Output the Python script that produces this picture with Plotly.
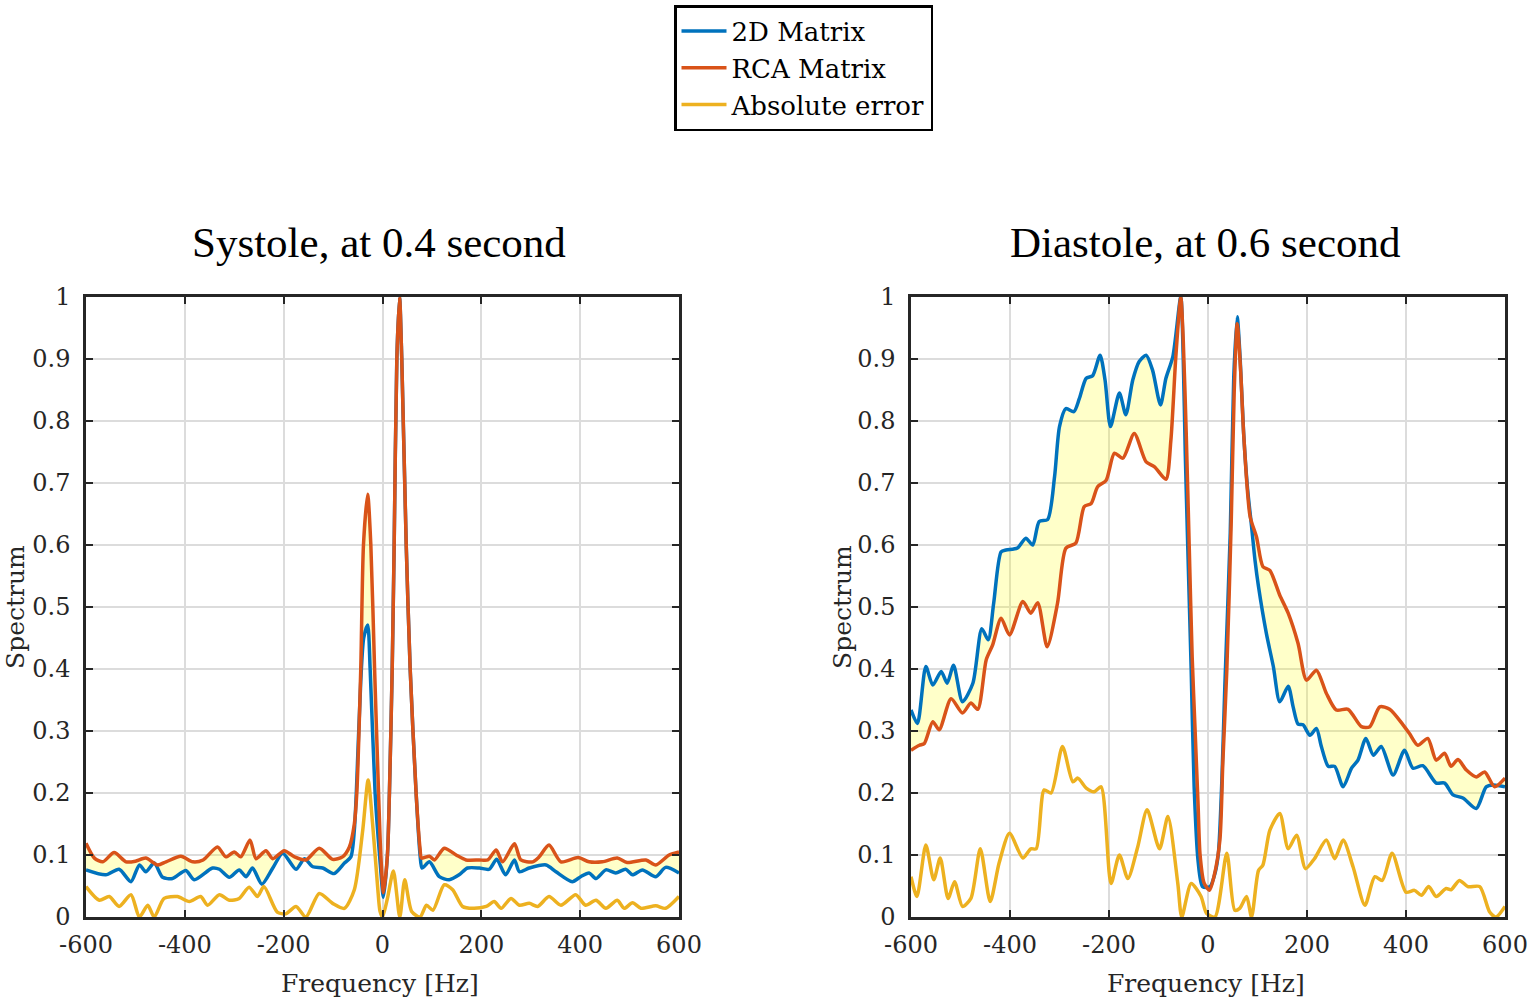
import plotly.graph_objects as go

# ---------------- Data ----------------
# Systole, at 0.4 second
sys_2d_f = [-600, -560, -533, -509, -492, -479, -462, -445, -425, -398, -381, -344, -330, -310, -290, -276,
            -263, -244, -222, -202, -175, -158, -141, -121, -98, -77, -64, -57, -53, -44, -38, -30, -25, -15,
            -6, 2, 10, 14, 19.6, 23.6, 29, 34.5, 39, 48, 56, 68, 76, 80, 95, 115, 135, 155, 172, 196, 216,
            231, 249, 267, 277, 297, 331, 351, 384, 401, 418, 432, 452, 472, 492, 506, 526, 553, 573, 600]
sys_2d_v = [0.076, 0.068, 0.077, 0.057, 0.084, 0.073, 0.087, 0.064, 0.062, 0.075, 0.060, 0.079, 0.077, 0.064,
            0.076, 0.065, 0.079, 0.053, 0.079, 0.103, 0.077, 0.094, 0.081, 0.079, 0.070, 0.087, 0.097, 0.14,
            0.2, 0.38, 0.45, 0.471, 0.4, 0.2, 0.1, 0.032, 0.1, 0.2, 0.4, 0.6, 0.9, 1.0, 0.9, 0.6, 0.4, 0.2,
            0.1, 0.079, 0.089, 0.065, 0.060, 0.068, 0.079, 0.079, 0.077, 0.093, 0.068, 0.092, 0.073, 0.079,
            0.084, 0.073, 0.057, 0.065, 0.071, 0.062, 0.076, 0.071, 0.077, 0.068, 0.076, 0.065, 0.080, 0.071]

sys_rca_f = [-600, -583, -566, -543, -519, -500, -479, -455, -438, -408, -384, -363, -334, -317, -300, -287,
             -268, -256, -236, -222, -199, -178, -155, -128, -101, -81, -67, -57, -52, -44, -38.5, -30, -23.6,
             -16, -8, -3.4, 2, 10, 14, 19.6, 23.6, 29, 34.5, 39, 48, 56, 68, 76, 79, 95, 105, 125, 149, 169,
             196, 213, 230, 243, 267, 280, 304, 317, 337, 361, 396, 418, 445, 475, 495, 533, 553, 580, 600]
sys_rca_v = [0.119, 0.095, 0.089, 0.104, 0.089, 0.090, 0.095, 0.084, 0.089, 0.098, 0.089, 0.092, 0.113, 0.097,
             0.105, 0.097, 0.124, 0.094, 0.107, 0.094, 0.107, 0.097, 0.092, 0.111, 0.093, 0.097, 0.113, 0.15,
             0.2, 0.4, 0.6, 0.682, 0.6, 0.4, 0.2, 0.1, 0.039, 0.1, 0.2, 0.4, 0.6, 0.9, 1.0, 0.9, 0.6, 0.4, 0.2,
             0.11, 0.095, 0.098, 0.092, 0.111, 0.100, 0.092, 0.092, 0.092, 0.108, 0.089, 0.118, 0.092, 0.089,
             0.097, 0.116, 0.089, 0.096, 0.089, 0.089, 0.095, 0.088, 0.092, 0.084, 0.100, 0.105]

sys_err_f = [-600, -573, -553, -533, -509, -492, -475, -462, -442, -415, -391, -368, -354, -330, -310, -290,
             -270, -253, -240, -213, -196, -175, -155, -128, -101, -77, -57, -40, -29, -20, -10, -5, 0, 10, 22,
             35, 45, 59, 76, 89, 102, 125, 142, 162, 183, 210, 226, 240, 260, 277, 297, 314, 337, 361, 391,
             411, 432, 452, 475, 489, 506, 523, 553, 573, 600]
sys_err_v = [0.049, 0.027, 0.033, 0.017, 0.036, 0.0, 0.019, 0.0, 0.030, 0.033, 0.025, 0.033, 0.019, 0.036,
             0.027, 0.030, 0.048, 0.033, 0.049, 0.008, 0.005, 0.017, 0.0, 0.038, 0.022, 0.014, 0.044, 0.14,
             0.221, 0.15, 0.05, 0.009, 0.0, 0.03, 0.074, 0.0, 0.060, 0.009, 0.0, 0.019, 0.011, 0.052, 0.044,
             0.017, 0.014, 0.017, 0.025, 0.014, 0.030, 0.019, 0.022, 0.017, 0.033, 0.019, 0.036, 0.019, 0.027,
             0.014, 0.027, 0.014, 0.023, 0.014, 0.018, 0.014, 0.033]

# Diastole, at 0.6 second
dia_2d_f = [-600, -587, -570, -556, -539, -527, -514, -496, -475, -457, -444, -433, -418, -408, -385, -368,
            -354, -341, -324, -310, -300, -287, -271, -260, -246, -233, -218, -208, -197, -179, -166, -152,
            -139, -125, -112, -96, -85, -71, -55, -50, -46, -41, -34, -28, -20, -11, 4, 14, 21, 28, 34, 45,
            52, 59, 65, 72, 80, 88, 95, 102, 118, 132, 145, 162, 172, 182, 192, 206, 219, 229, 243, 256, 273,
            290, 303, 319, 334, 350, 374, 397, 414, 434, 461, 478, 495, 515, 542, 562, 576, 600]
dia_2d_v = [0.334, 0.312, 0.404, 0.374, 0.396, 0.377, 0.406, 0.347, 0.377, 0.465, 0.447, 0.506, 0.589, 0.592,
            0.595, 0.611, 0.600, 0.638, 0.641, 0.710, 0.791, 0.820, 0.815, 0.836, 0.869, 0.873, 0.906, 0.866,
            0.791, 0.845, 0.810, 0.866, 0.896, 0.906, 0.882, 0.826, 0.869, 0.904, 1.0, 0.9, 0.75, 0.6, 0.4,
            0.21, 0.09, 0.049, 0.049, 0.07, 0.103, 0.22, 0.372, 0.62, 0.87, 0.968, 0.9, 0.78, 0.69, 0.63,
            0.575, 0.533, 0.457, 0.404, 0.347, 0.372, 0.339, 0.311, 0.310, 0.293, 0.304, 0.275, 0.243, 0.243,
            0.210, 0.240, 0.253, 0.288, 0.261, 0.275, 0.229, 0.269, 0.240, 0.244, 0.216, 0.216, 0.197, 0.192,
            0.175, 0.210, 0.213, 0.210]

dia_rca_f = [-600, -583, -573, -556, -543, -519, -496, -479, -465, -448, -435, -418, -401, -374, -358, -344,
             -325, -304, -287, -267, -250, -236, -223, -206, -189, -172, -149, -125, -108, -85, -75, -65, -55,
             -50, -44, -38, -32, -26, -20, -16, -8, 3, 12, 24, 30, 38, 47, 53, 59, 66, 72, 85, 98, 111, 125,
             145, 162, 182, 199, 219, 239, 259, 283, 310, 327, 347, 367, 394, 407, 424, 444, 461, 478, 491,
             505, 522, 542, 559, 579, 600]
dia_rca_v = [0.269, 0.277, 0.280, 0.315, 0.302, 0.352, 0.329, 0.345, 0.335, 0.415, 0.439, 0.482, 0.455, 0.509,
             0.490, 0.507, 0.436, 0.506, 0.595, 0.603, 0.662, 0.667, 0.694, 0.704, 0.748, 0.740, 0.780, 0.734,
             0.726, 0.706, 0.769, 0.904, 1.0, 0.93, 0.78, 0.6, 0.42, 0.3, 0.18, 0.1, 0.055, 0.043, 0.065,
             0.124, 0.25, 0.398, 0.64, 0.85, 0.957, 0.88, 0.78, 0.646, 0.613, 0.565, 0.559, 0.519, 0.490,
             0.441, 0.382, 0.398, 0.361, 0.334, 0.335, 0.307, 0.307, 0.339, 0.335, 0.310, 0.296, 0.277, 0.288,
             0.253, 0.264, 0.243, 0.254, 0.237, 0.226, 0.234, 0.210, 0.224]

dia_err_f = [-600, -588, -570, -554, -541, -525, -512, -496, -479, -460, -440, -422, -401, -374, -358, -347,
             -331, -317, -294, -273, -263, -246, -230, -216, -196, -179, -162, -142, -123, -98, -81, -61, -53,
             -34, -14, -3, 14, 38, 54, 64, 78, 88, 102, 111, 125, 145, 162, 179, 197, 215, 239, 256, 273, 293,
             317, 337, 352, 372, 400, 417, 431, 446, 461, 481, 491, 508, 525, 549, 569, 582, 600]
dia_err_v = [0.065, 0.033, 0.116, 0.060, 0.095, 0.030, 0.057, 0.017, 0.030, 0.110, 0.025, 0.087, 0.135, 0.095,
             0.110, 0.110, 0.205, 0.200, 0.275, 0.218, 0.224, 0.208, 0.202, 0.210, 0.054, 0.100, 0.062, 0.113,
             0.173, 0.110, 0.162, 0.054, 0.0, 0.054, 0.033, 0.006, 0.0, 0.103, 0.011, 0.014, 0.033, 0.0, 0.075,
             0.084, 0.140, 0.167, 0.110, 0.132, 0.078, 0.094, 0.124, 0.094, 0.124, 0.081, 0.019, 0.065, 0.059,
             0.103, 0.040, 0.043, 0.035, 0.049, 0.033, 0.046, 0.044, 0.059, 0.049, 0.049, 0.008, 0.0, 0.017]

panel_titles = ["Systole, at 0.4 second", "Diastole, at 0.6 second"]
series_names = ["2D Matrix", "RCA Matrix", "Absolute error"]
x_ticks = [-600, -400, -200, 0, 200, 400, 600]
x_ticktext = ["-600", "-400", "-200", "0", "200", "400", "600"]
y_ticks = [0, 0.1, 0.2, 0.3, 0.4, 0.5, 0.6, 0.7, 0.8, 0.9, 1]
y_ticktext = ["0", "0.1", "0.2", "0.3", "0.4", "0.5", "0.6", "0.7", "0.8", "0.9", "1"]
x_label = "Frequency [Hz]"
y_label = "Spectrum"

# ---------------- Styling ----------------
BLUE = "#0072BD"
RED = "#D95319"
YEL = "#EDB120"
FILL = "rgba(255,255,0,0.21)"
TITLE_FONT = "Liberation Serif"
LABEL_FONT = "DejaVu Serif"
AX = "#262626"
W, H = 1529, 1003

fig = go.Figure()

panels = [
    (sys_2d_f, sys_2d_v, sys_rca_f, sys_rca_v, sys_err_f, sys_err_v),
    (dia_2d_f, dia_2d_v, dia_rca_f, dia_rca_v, dia_err_f, dia_err_v),
]
xdomains = [[86 / W, 679 / W], [911 / W, 1505 / W]]
ydomain = [1 - 917 / H, 1 - 297 / H]

for i, (bf, bv, rf, rv, ef, ev) in enumerate(panels):
    xa = "x" if i == 0 else "x2"
    ya = "y" if i == 0 else "y2"
    line_kw = dict(shape="spline", smoothing=0.7)
    # fill between blue and red
    fig.add_trace(go.Scatter(x=bf, y=bv, mode="lines", line=dict(width=0, **line_kw),
                             showlegend=False, hoverinfo="skip", xaxis=xa, yaxis=ya))
    fig.add_trace(go.Scatter(x=rf, y=rv, mode="lines", line=dict(width=0, **line_kw),
                             fill="tonexty", fillcolor=FILL,
                             showlegend=False, hoverinfo="skip", xaxis=xa, yaxis=ya))
    for (xf, yv, col, name) in [(bf, bv, BLUE, series_names[0]),
                                (rf, rv, RED, series_names[1]),
                                (ef, ev, YEL, series_names[2])]:
        fig.add_trace(go.Scatter(x=xf, y=yv, mode="lines", name=name,
                                 line=dict(color=col, width=3.5, **line_kw),
                                 showlegend=(i == 0), xaxis=xa, yaxis=ya))

axis_common = dict(
    showline=True, linecolor=AX, linewidth=2.5, mirror="ticks",
    ticks="inside", ticklen=7, tickwidth=2, tickcolor=AX,
    showgrid=True, gridcolor="#dcdcdc", gridwidth=1.5, zeroline=False,
    tickfont=dict(family=LABEL_FONT, size=24, color=AX), automargin=False,
)

for i in range(2):
    sx = "" if i == 0 else "2"
    fig.update_layout(**{
        f"xaxis{sx}": dict(domain=xdomains[i], range=[-600, 600], tickvals=x_ticks, ticktext=x_ticktext,
                           anchor=f"y{sx}", ticklabelstandoff=4, **axis_common),
        f"yaxis{sx}": dict(domain=ydomain, range=[0, 1], tickvals=y_ticks, ticktext=y_ticktext,
                           anchor=f"x{sx}", ticklabelstandoff=8, **axis_common),
    })

annotations = []
centers = [(xdomains[i][0] + xdomains[i][1]) / 2 for i in range(2)]
ylab_x = [15 / W, 842 / W]
for i in range(2):
    annotations.append(dict(text=panel_titles[i], x=centers[i] - 3 / W, y=1 - 242 / H, xref="paper",
                            yref="paper", showarrow=False, xanchor="center", yanchor="middle",
                            font=dict(family=TITLE_FONT, size=43, color="black")))
    annotations.append(dict(text=x_label, x=centers[i] - 2 / W, y=1 - 983 / H, xref="paper", yref="paper",
                            showarrow=False, xanchor="center", yanchor="middle",
                            font=dict(family=LABEL_FONT, size=25, color=AX)))
    annotations.append(dict(text=y_label, x=ylab_x[i], y=1 - 607 / H, xref="paper", yref="paper",
                            showarrow=False, xanchor="center", yanchor="middle", textangle=-90,
                            font=dict(family=LABEL_FONT, size=25, color=AX)))

fig.update_layout(
    width=W, height=H,
    margin=dict(l=0, r=0, t=0, b=0, autoexpand=False),
    paper_bgcolor="white", plot_bgcolor="white",
    annotations=annotations,
    legend=dict(x=803.5 / W, y=1 - 5 / H, xanchor="center", yanchor="top",
                bordercolor="black", borderwidth=2.5, bgcolor="white",
                font=dict(family=LABEL_FONT, size=26, color="black"),
                traceorder="normal", tracegroupgap=0, itemwidth=45),
)

fig.write_html("out.html")
